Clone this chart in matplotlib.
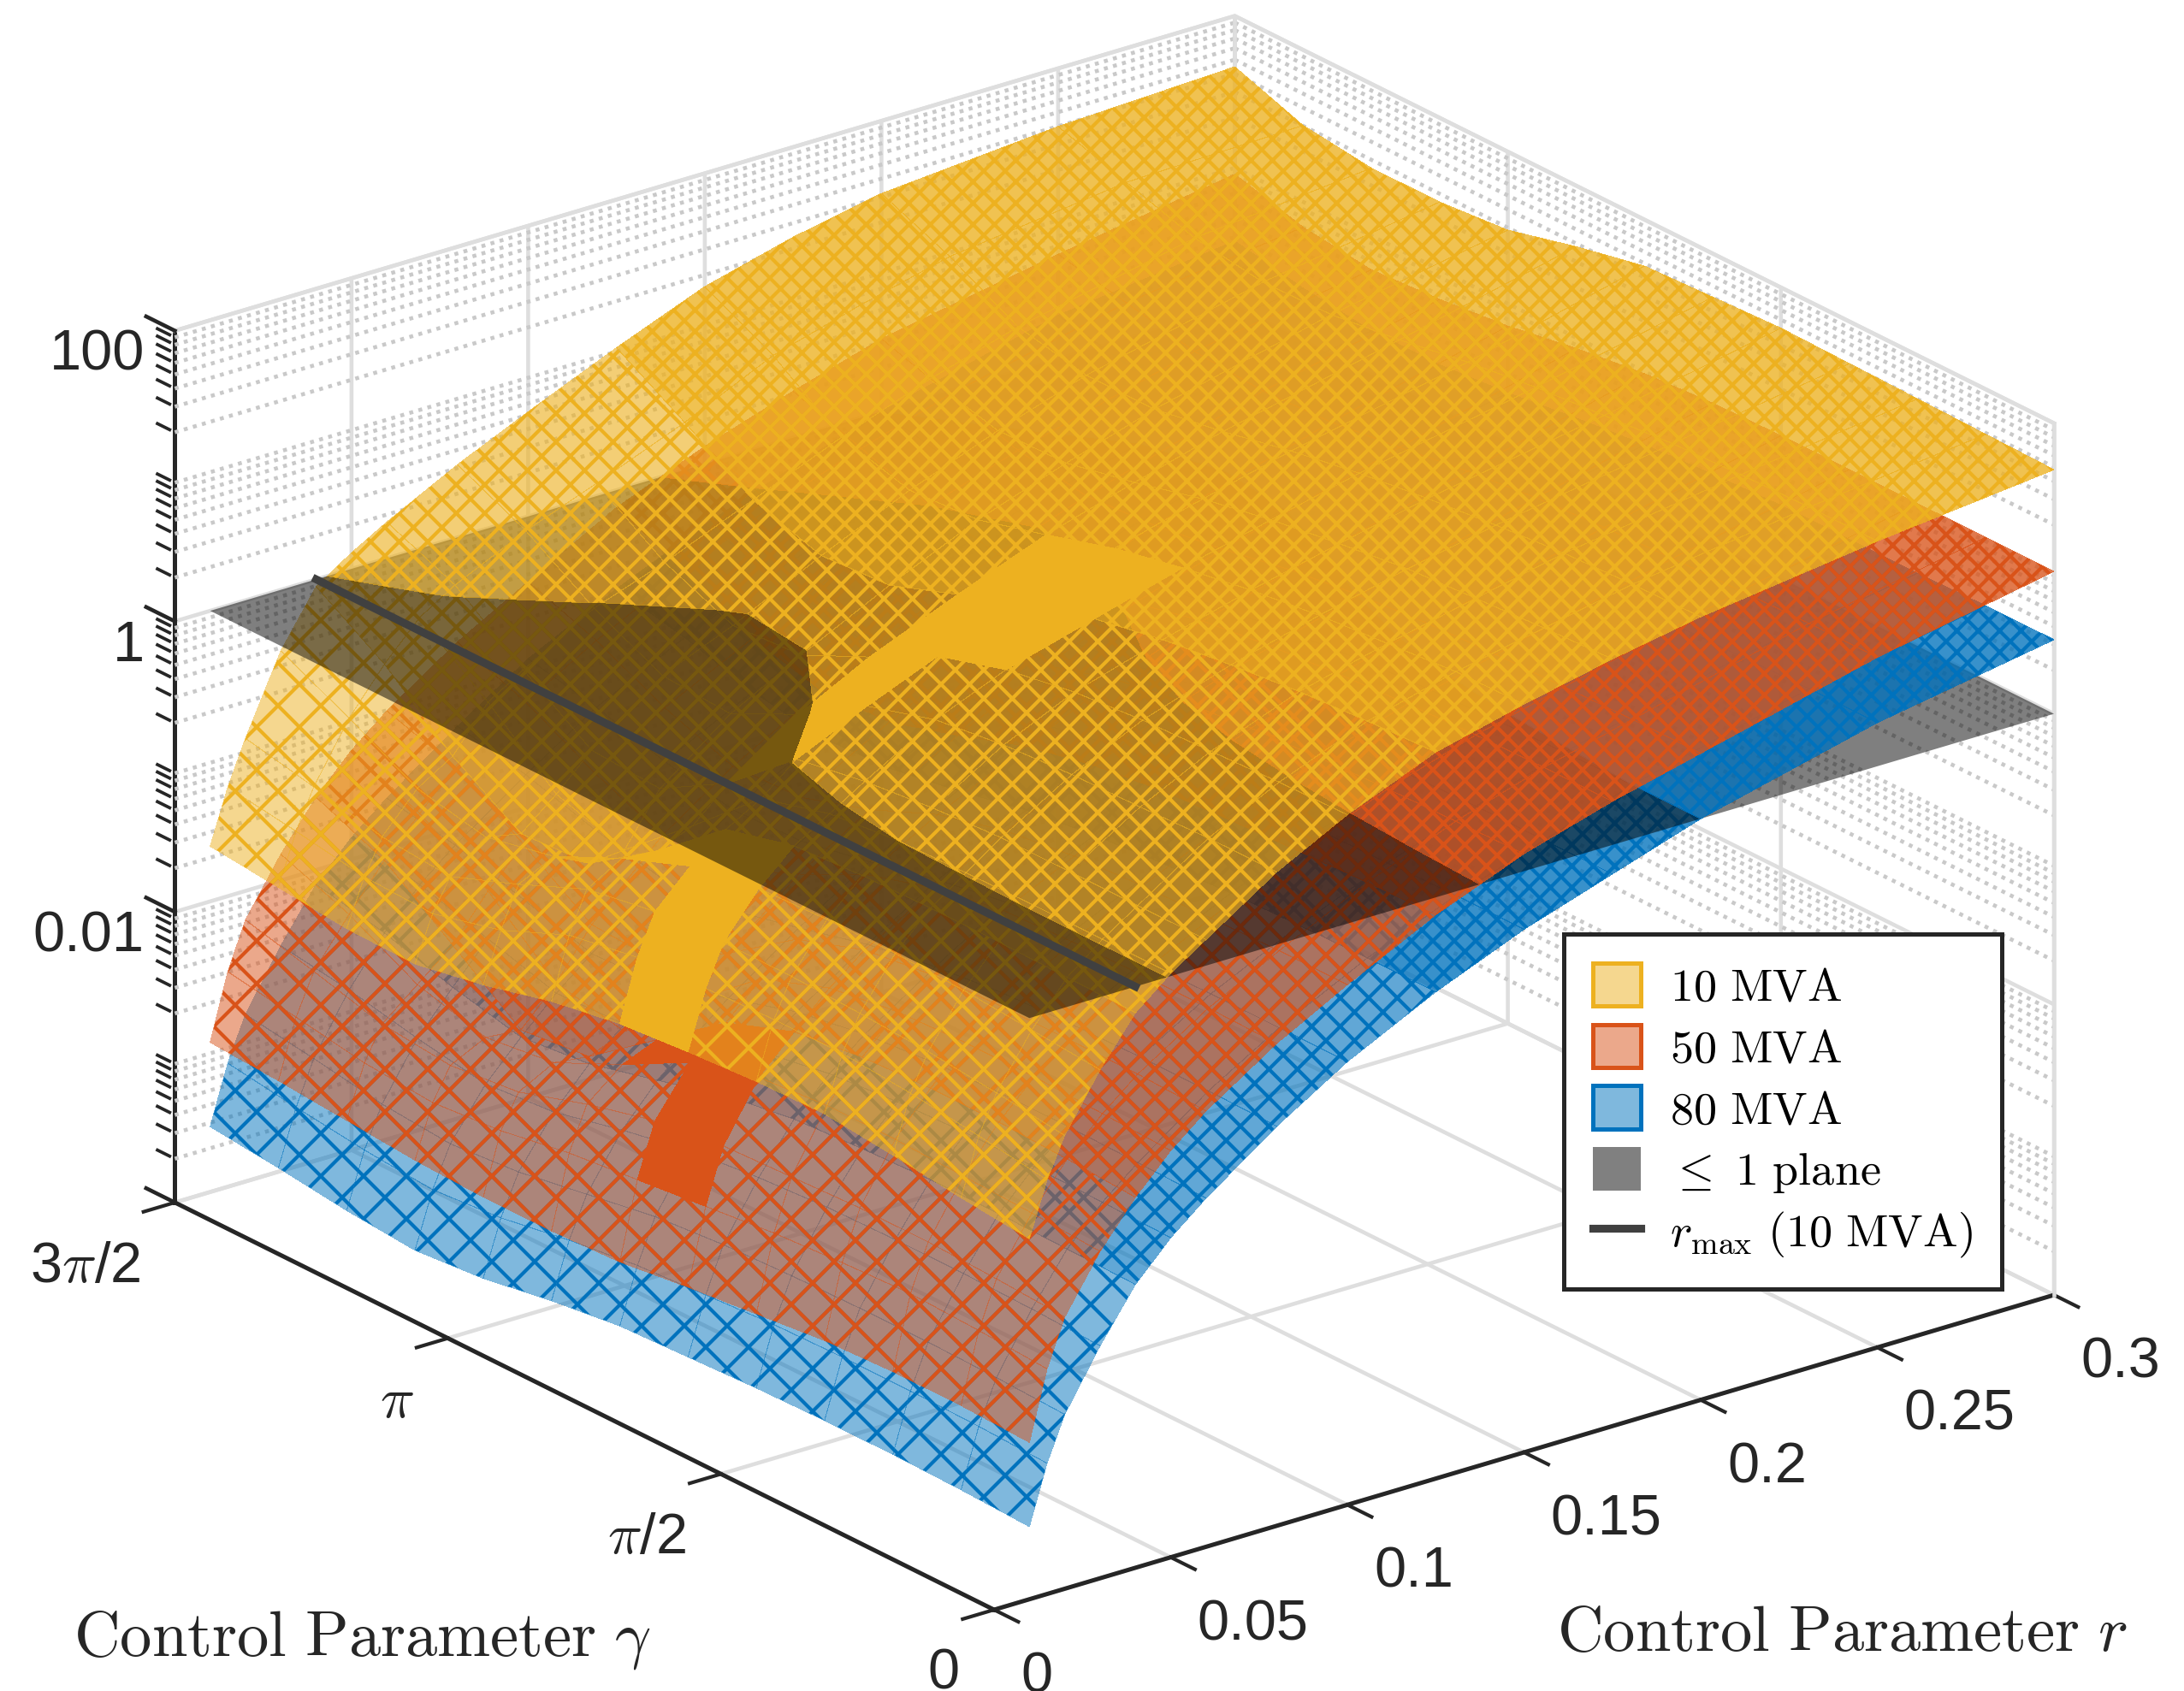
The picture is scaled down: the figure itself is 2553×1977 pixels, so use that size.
import numpy as np
import matplotlib
matplotlib.use("Agg")
import matplotlib.pyplot as plt
from matplotlib.colors import to_rgba
from matplotlib.lines import Line2D
from matplotlib.patches import Patch
from mpl_toolkits.mplot3d import proj3d
from mpl_toolkits.mplot3d.art3d import Poly3DCollection

plt.rcParams['font.family'] = ['Liberation Sans', 'DejaVu Sans']
plt.rcParams['mathtext.fontset'] = 'cm'
plt.rcParams['hatch.linewidth'] = 1.0

# control parameters (gamma in multiples of 3pi/2 / 12)
r_vals = [.01, .015, .02, .03, .04, .05, .06, .08, .1, .125, .15, .175, .2, .25, .3]
gamma_vals = [k * 1.5 * np.pi / 12 for k in range(13)]

# log10 of the cost, rows follow r_vals, columns follow gamma_vals
z_10mva = [
    [-1.52, -1.47, -1.41, -1.36, -1.37, -1.40, -1.44, -1.52, -1.64, -1.73, -1.72, -1.67, -1.62],
    [-1.15, -1.08, -1.02, -.98, -.98, -1.0, -1.02, -1.10, -1.30, -1.42, -1.40, -1.32, -1.25],
    [-.88, -.82, -.77, -.74, -.72, -.72, -.74, -.82, -1.02, -1.20, -1.16, -1.05, -.95],
    [-.5, -.46, -.42, -.4, -.4, -.42, -.5, -.68, -.9, -1.0, -.9, -.65, -.42],
    [-.18, -.17, -.16, -.16, -.17, -.2, -.32, -.7, -1.02, -1.05, -.75, -.35, -.05],
    [.02, .02, .02, .01, 0, -.05, -.18, -.6, -1.0, -.85, -.45, -.1, .11],
    [.18, .18, .18, .18, .15, .1, .02, -.38, -.65, -.62, -.3, .05, .25],
    [.5, .5, .48, .47, .44, .38, .24, -.05, -.28, -.25, -.02, .28, .5],
    [.75, .74, .72, .7, .66, .58, .44, .2, -.02, -.05, .15, .46, .72],
    [1.0, .98, .95, .9, .84, .75, .64, .45, .28, .25, .4, .7, .98],
    [1.15, 1.14, 1.1, 1.06, 1.0, .92, .82, .68, .55, .52, .65, .98, 1.22],
    [1.28, 1.26, 1.23, 1.2, 1.14, 1.07, .98, .86, .76, .75, .87, 1.15, 1.38],
    [1.39, 1.38, 1.36, 1.32, 1.27, 1.21, 1.13, 1.03, .95, .95, 1.05, 1.3, 1.5],
    [1.55, 1.55, 1.54, 1.52, 1.48, 1.44, 1.38, 1.3, 1.24, 1.23, 1.3, 1.45, 1.6],
    [1.68, 1.69, 1.70, 1.71, 1.72, 1.70, 1.68, 1.58, 1.46, 1.42, 1.42, 1.48, 1.65],
]
z_50mva = [
    [-2.92, -2.9, -2.9, -2.92, -2.97, -3.02, -3.08, -3.1, -3.1, -3.08, -3.04, -3.0, -2.97],
    [-2.45, -2.42, -2.4, -2.42, -2.45, -2.5, -2.55, -2.6, -2.68, -2.72, -2.68, -2.6, -2.52],
    [-2.13, -2.1, -2.08, -2.08, -2.1, -2.12, -2.18, -2.3, -2.45, -2.5, -2.45, -2.32, -2.2],
    [-1.75, -1.72, -1.7, -1.68, -1.68, -1.72, -1.85, -2.1, -2.32, -2.38, -2.25, -2.0, -1.82],
    [-1.45, -1.42, -1.4, -1.4, -1.42, -1.48, -1.65, -2.0, -2.35, -2.4, -2.05, -1.7, -1.5],
    [-1.2, -1.18, -1.16, -1.16, -1.18, -1.25, -1.42, -1.8, -2.25, -2.15, -1.75, -1.45, -1.25],
    [-1.0, -.98, -.98, -.98, -1.0, -1.06, -1.22, -1.55, -1.85, -1.82, -1.5, -1.2, -1.05],
    [-.68, -.67, -.67, -.68, -.7, -.78, -.92, -1.15, -1.35, -1.35, -1.15, -.9, -.72],
    [-.42, -.42, -.43, -.44, -.47, -.53, -.65, -.85, -1.0, -1.02, -.85, -.62, -.45],
    [-.12, -.13, -.15, -.17, -.2, -.26, -.36, -.52, -.66, -.68, -.55, -.32, -.12],
    [.12, .11, .1, .08, .05, 0, -.08, -.22, -.35, -.37, -.25, -.05, .12],
    [.3, .3, .29, .27, .24, .2, .14, .03, -.07, -.1, 0, .16, .32],
    [.45, .45, .44, .43, .41, .37, .31, .22, .15, .12, .2, .35, .5],
    [.75, .75, .74, .73, .71, .68, .63, .56, .5, .48, .52, .62, .72],
    [.98, .98, .98, .98, .98, .97, .94, .88, .8, .75, .72, .78, .91],
]
z_80mva = [
    [-3.5, -3.48, -3.47, -3.47, -3.48, -3.5, -3.52, -3.58, -3.66, -3.7, -3.66, -3.6, -3.55],
    [-3.1, -3.08, -3.07, -3.07, -3.08, -3.11, -3.14, -3.2, -3.28, -3.32, -3.28, -3.22, -3.15],
    [-2.8, -2.78, -2.77, -2.77, -2.78, -2.8, -2.84, -2.92, -3.0, -3.04, -3.0, -2.92, -2.85],
    [-2.4, -2.38, -2.37, -2.37, -2.38, -2.41, -2.46, -2.55, -2.66, -2.7, -2.62, -2.52, -2.45],
    [-2.05, -2.04, -2.03, -2.03, -2.05, -2.08, -2.15, -2.28, -2.4, -2.45, -2.34, -2.2, -2.1],
    [-1.8, -1.79, -1.78, -1.78, -1.8, -1.84, -1.92, -2.06, -2.2, -2.22, -2.08, -1.94, -1.85],
    [-1.6, -1.59, -1.58, -1.58, -1.6, -1.64, -1.72, -1.86, -2.0, -2.02, -1.88, -1.74, -1.65],
    [-1.25, -1.24, -1.24, -1.25, -1.27, -1.32, -1.4, -1.52, -1.63, -1.65, -1.54, -1.4, -1.3],
    [-.95, -.95, -.95, -.96, -.98, -1.02, -1.1, -1.21, -1.3, -1.32, -1.22, -1.08, -.98],
    [-.65, -.65, -.66, -.67, -.7, -.74, -.8, -.9, -.98, -1.0, -.92, -.78, -.68],
    [-.4, -.4, -.41, -.42, -.44, -.48, -.54, -.63, -.7, -.72, -.65, -.52, -.42],
    [-.2, -.2, -.2, -.21, -.23, -.27, -.32, -.4, -.46, -.48, -.42, -.3, -.2],
    [0, 0, -.01, -.02, -.04, -.07, -.12, -.19, -.25, -.27, -.22, -.1, 0],
    [.3, .3, .29, .28, .27, .24, .2, .14, .09, .07, .1, .2, .3],
    [.51, .51, .5, .5, .5, .48, .45, .4, .34, .3, .3, .36, .45],
]

# cells where the mesh lines run together into solid colour (r index, gamma index)
solid_10mva = [(0, 5), (1, 5), (2, 5), (3, 5), (3, 6), (6, 6), (7, 6), (8, 6), (9, 6), (8, 5), (9, 5)]
solid_50mva = [(1, 5), (2, 5), (3, 5), (3, 6)]
solid_80mva = []

r_max_10mva = .04

r_ticks = [0, .05, .1, .15, .2, .25, .3]
r_labels = ['0', '0.05', '0.1', '0.15', '0.2', '0.25', '0.3']
gamma_ticks = [0, np.pi / 2, np.pi, 1.5 * np.pi]
gamma_labels = ['0', r'$\pi$/2', r'$\pi$', r'3$\pi$/2']
z_ticks = [-4, -2, 0, 2]
z_labels = ['', '0.01', '1', '100']
z_minor = [d + np.log10(m) for d in range(-4, 2) for m in range(2, 10)]

YELLOW = '#EDB120'
RED = '#D95319'
BLUE = '#0072BD'
GRID = '#dedede'
DOTS = '#c9c9c9'
INK = '#262626'
W, H = 2553, 1977


def clip_below(poly, sign):
    # keep the part of a 3d polygon on one side of the z = 0 plane
    out = []
    for a, b in zip(poly, poly[1:] + poly[:1]):
        da, db = sign * a[2], sign * b[2]
        if da >= 0:
            out.append(a)
        if (da >= 0) != (db >= 0):
            t = da / (da - db)
            out.append(tuple(np.add(a, np.multiply(t, np.subtract(b, a)))))
    return out


def surface_parts(z_grid):
    below, above = [], []
    for i in range(len(r_vals) - 1):
        for j in range(len(gamma_vals) - 1):
            quad = [(r_vals[a], gamma_vals[b], z_grid[a][b])
                    for a, b in ((i, j), (i + 1, j), (i + 1, j + 1), (i, j + 1))]
            for sign, target in ((-1, below), (1, above)):
                part = clip_below(quad, sign)
                if len(part) >= 3:
                    target.append((part, i, j))
    return below, above


fig = plt.figure(figsize=(W / 300, H / 300), dpi=300)
ax = fig.add_axes([0, 0, 1, 1], projection='3d', proj_type='ortho')
ax.computed_zorder = False
ax.view_init(elev=22.6, azim=-127.7)
ax.set_box_aspect((1, 1, .705))
ax.set_xlim(0, .3)
ax.set_ylim(0, 1.5 * np.pi)
ax.set_zlim(-4, 2)

ax.set_xticks(r_ticks)
ax.set_xticklabels(r_labels)
ax.set_yticks(gamma_ticks)
ax.set_yticklabels(gamma_labels)
ax.set_zticks(z_ticks)
ax.set_zticklabels(z_labels)
for t in ax.get_xticklabels():
    t.set_ha('left')
for t in ax.get_yticklabels():
    t.set_ha('right')
for t in ax.get_zticklabels():
    t.set_ha('right')
ax.tick_params(axis='both', labelsize=16, colors=INK)
ax.tick_params(axis='x', pad=0)
ax.tick_params(axis='y', pad=0)
ax.tick_params(axis='z', pad=-4)

for axis in (ax.xaxis, ax.yaxis, ax.zaxis):
    axis.set_pane_color((1, 1, 1, 0))
    axis.pane.set_edgecolor((1, 1, 1, 0))
    axis.line.set_color(INK)
    axis.line.set_linewidth(1.2)
    axis._axinfo['grid'].update(color=GRID, linewidth=1.1, linestyle='-')
    axis._axinfo['tick'].update(inward_factor=.37, outward_factor=0)
    axis._axinfo['tick']['linewidth'] = {True: 1.0, False: .8}
    axis._axinfo['tick']['color'] = INK
ax.zaxis._axinfo['tick'].update(inward_factor=0, outward_factor=0)

# dotted minor grid on the two back walls, light edges of the box
r_end, g_end = .3, 1.5 * np.pi
for z in z_minor:
    ax.plot([0, r_end], [g_end, g_end], [z, z], color=DOTS, lw=1.1, ls=(0, (1, 1.4)), zorder=1, clip_on=False)
    ax.plot([r_end, r_end], [g_end, 0], [z, z], color=DOTS, lw=1.1, ls=(0, (1, 1.4)), zorder=1, clip_on=False)
    ax.plot([0, 0], [g_end + .03, g_end + .1], [z, z], color=INK, lw=.9, zorder=20, clip_on=False)
for z in z_ticks:
    ax.plot([0, 0], [g_end, g_end + .165], [z, z], color=INK, lw=1.1, zorder=20, clip_on=False)
ax.plot([0, r_end, r_end], [g_end, g_end, 0], [2, 2, 2], color=GRID, lw=1.1, zorder=1, clip_on=False)
ax.plot([r_end, r_end], [0, 0], [-4, 2], color=GRID, lw=1.1, zorder=1, clip_on=False)
ax.plot([r_end, r_end], [g_end, g_end], [-4, 2], color=GRID, lw=1.1, zorder=1, clip_on=False)

# mesh density by r row: hatch, face opacity
row_bins = [(0, 4, 'xx', .5), (4, 9, 'xxx', .62), (9, 14, 'xxxx', .78)]

# surfaces under the 1 plane first, then the plane, then the parts over it
surfaces = ((z_80mva, BLUE, solid_80mva), (z_50mva, RED, solid_50mva), (z_10mva, YELLOW, solid_10mva))
for k, (z_grid, colour, solid) in enumerate(surfaces):
    below, above = surface_parts(z_grid)
    for parts, base in ((below, 5), (above, 15)):
        for b, (lo, hi, hatch, opacity) in enumerate(row_bins):
            chosen = [p for p in parts if lo <= p[1] < hi]
            if not chosen:
                continue
            faces = [to_rgba(colour, 1 if (i, j) in solid else opacity) for p, i, j in chosen]
            coll = Poly3DCollection([p[0] for p in chosen], facecolors=faces, edgecolors=colour,
                                    linewidths=0, hatch=hatch, antialiased=False,
                                    zorder=base + k + (2 - b) * .1)
            ax.add_collection3d(coll, autolim=False)
            coll.set_clip_on(False)

plane = [[(r_vals[0], 0, 0), (r_vals[-1], 0, 0), (r_vals[-1], g_end, 0), (r_vals[0], g_end, 0)]]
plane_coll = Poly3DCollection(plane, facecolors=(0, 0, 0, .5), linewidths=0, zorder=10)
ax.add_collection3d(plane_coll, autolim=False)
plane_coll.set_clip_on(False)
ax.plot([r_max_10mva, r_max_10mva], [0, g_end], [0, 0], color='#404040', lw=2.2, zorder=30, clip_on=False)

# legend
handles = [
    Patch(facecolor=to_rgba(YELLOW, .5), edgecolor=YELLOW, lw=1.2, label=r'$\mathrm{10\ MVA}$'),
    Patch(facecolor=to_rgba(RED, .5), edgecolor=RED, lw=1.2, label=r'$\mathrm{50\ MVA}$'),
    Patch(facecolor=to_rgba(BLUE, .5), edgecolor=BLUE, lw=1.2, label=r'$\mathrm{80\ MVA}$'),
    Patch(facecolor='#808080', edgecolor='none', label=r'$\leq\ \mathrm{1\ plane}$'),
    Line2D([], [], color='#404040', lw=2.2, label=r'$r_{\mathrm{max}}\ \mathrm{(10\ MVA)}$'),
]
leg = fig.legend(handles=handles, loc='upper left', bbox_to_anchor=(1828 / W, 1 - 1092 / H),
                 borderaxespad=0, fontsize=13, frameon=True, fancybox=False, framealpha=1,
                 edgecolor=INK, handlelength=1.05, handleheight=1.05, labelspacing=.32,
                 borderpad=.62, handletextpad=.62)
leg.get_frame().set_linewidth(1.2)
leg.set_zorder(50)

fig.text(86 / W, 1 - 1918 / H, r'$\mathrm{Control\ Parameter}\ \gamma$', fontsize=17.9,
         color=INK, ha='left', va='center')
fig.text(1820 / W, 1 - 1910 / H, r'$\mathrm{Control\ Parameter}\ r$', fontsize=17.9,
         color=INK, ha='left', va='center')


def corner_px(x, y, z):
    px, py, _ = proj3d.proj_transform(x, y, z, ax.get_proj())
    return ax.transData.transform((px, py))


# fit the box on the page from two of its corners
fig.canvas.draw()
origin_target = np.array([1162, H - 1882])
end_target = np.array([2401, H - 1514])
p0, p1 = corner_px(0, 0, -4), corner_px(.3, 0, -4)
zoom = np.linalg.norm(end_target - origin_target) / np.linalg.norm(p1 - p0)
ax.set_box_aspect((1, 1, .705), zoom=zoom)
fig.canvas.draw()
shift = origin_target - corner_px(0, 0, -4)
pos = ax.get_position()
ax.set_position(pos.translated(shift[0] / W, shift[1] / H))

fig.savefig('out.png', dpi=300)
